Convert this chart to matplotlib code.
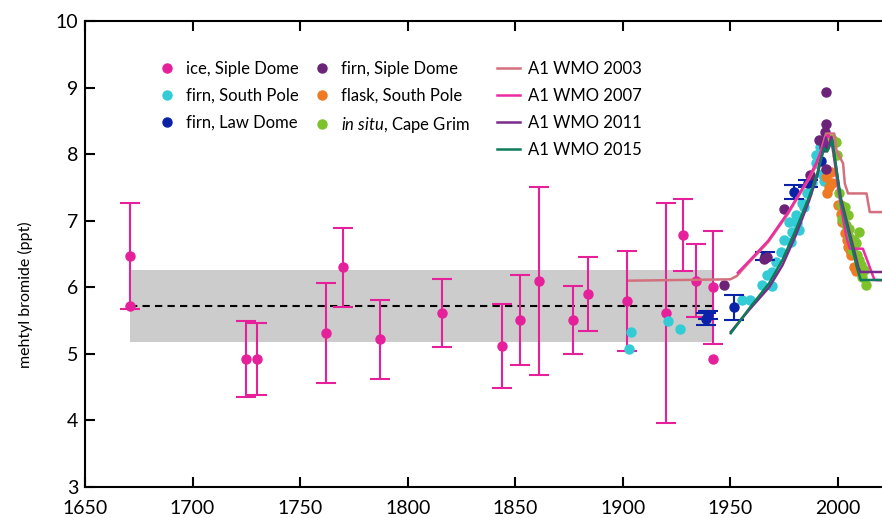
import numpy as np
import matplotlib
matplotlib.use("Agg")
import matplotlib.pyplot as plt
from matplotlib.lines import Line2D

plt.rcParams["font.family"] = ["Lato", "DejaVu Sans"]
plt.rcParams["mathtext.fontset"] = "custom"
plt.rcParams["mathtext.it"] = "Lato:italic"
plt.rcParams["mathtext.rm"] = "Lato"

# ice, Siple Dome (err 0 = no error bar)
ice_year = [1671, 1671, 1725, 1730, 1762, 1770, 1787, 1816, 1844, 1852, 1861,
            1877, 1884, 1902, 1920, 1928, 1934, 1942, 1942]
ice_val = [6.47, 5.72, 4.92, 4.92, 5.32, 6.30, 5.22, 5.61, 5.12, 5.51, 6.10,
           5.51, 5.90, 5.80, 5.61, 6.79, 6.10, 6.00, 4.92]
ice_err = [0.79, 0, 0.57, 0.54, 0.75, 0.59, 0.59, 0.51, 0.63, 0.68, 1.41,
           0.51, 0.55, 0.75, 1.65, 0.54, 0.55, 0.85, 0]

# firn, South Pole
sp_year = [1902.8, 1903.9, 1920.8, 1926.7, 1955.5, 1959, 1964.6, 1969.3, 1967.2,
           1969.5, 1971, 1973.4, 1975, 1978, 1978.8, 1977.3, 1980.4, 1982, 1981.2,
           1983.5, 1985.8, 1988.1, 1990, 1989.7, 1991.5, 1993.5, 1992.5, 1984.3]
sp_val = [5.07, 5.33, 5.50, 5.37, 5.81, 5.81, 6.03, 6.02, 6.18,
          6.23, 6.38, 6.53, 6.71, 6.68, 6.83, 6.98, 7.08, 6.86, 6.96,
          7.26, 7.41, 7.56, 7.86, 7.99, 8.11, 7.59, 7.70, 7.20]

# firn, Law Dome
ld_year = [1938.7, 1939.5, 1951.8, 1966, 1979.5, 1986.1, 1992]
ld_val = [5.53, 5.58, 5.70, 6.47, 7.43, 7.56, 7.90]
ld_err = [0.09, 0.06, 0.19, 0.06, 0.10, 0.05, 0]

# firn, Siple Dome
fsd_year = [1947.2, 1965.5, 1967, 1974.9, 1987.2, 1991.2, 1993.5, 1994.6, 1994.6, 1994, 1994.3]
fsd_val = [6.04, 6.43, 6.45, 7.17, 7.68, 8.21, 8.11, 8.94, 8.45, 8.34, 7.78]

# flask, South Pole
fl_year = [1994.3, 1996.6, 1997.4, 1995.9, 1995.1, 2000.2, 2001.3, 2002, 2003.3,
           2004.1, 2004.8, 2006, 2007.4, 2005.5, 2008.2]
fl_val = [7.66, 7.73, 7.56, 7.51, 7.41, 7.23, 7.10, 6.98, 6.81,
          6.71, 6.61, 6.48, 6.31, 6.56, 6.25]

# in situ, Cape Grim
cg_year = [1997.1, 1998.9, 1999.7, 2000.5, 2001.3, 2001.7, 2003.6, 2005.1, 2009.8,
           2005.1, 2007.5, 2008.3, 2006.7, 2009, 2009.8, 2010.6, 2012.1, 2012.9,
           2003.4, 2004.6, 2011.4]
cg_val = [8.23, 8.18, 7.99, 7.41, 7.23, 7.03, 6.93, 6.88, 6.83,
          6.76, 6.71, 6.66, 6.56, 6.48, 6.41, 6.33, 6.26, 6.03,
          7.20, 7.08, 6.15]

# A1 scenarios
w03_year = [1903, 1950, 1953, 1958.3, 1967.6, 1976.9, 1986.2, 1990, 1994.5, 1998.3,
            1999.3, 2002.4, 2003.2, 2004.7, 2013.3, 2014.8, 2025]
w03_val = [6.10, 6.12, 6.17, 6.36, 6.68, 7.11, 7.61, 7.83, 8.31, 8.31,
           8.06, 7.86, 7.56, 7.41, 7.41, 7.13, 7.13]
w07_year = [1953.5, 1958.3, 1967.6, 1976.9, 1986.2, 1990, 1995, 1996.5, 1998, 2000,
            2002, 2004, 2005.5, 2011.6, 2017, 2025]
w07_val = [6.22, 6.38, 6.70, 7.13, 7.63, 7.87, 8.28, 8.25, 8.00, 7.50,
           7.10, 6.75, 6.58, 6.58, 6.11, 6.10]
w11_year = [1950.2, 1958.7, 1968, 1974.2, 1980.4, 1986.6, 1990.4, 1994.5, 1995.5,
            1997, 2001.3, 2009.5, 2010.5, 2025]
w11_val = [5.33, 5.66, 6.00, 6.33, 6.78, 7.30, 7.68, 8.25, 8.10,
           8.26, 7.35, 6.30, 6.23, 6.23]
w15_year = [1950.2, 1958.7, 1968, 1974.2, 1980.4, 1986.6, 1990.4, 1993.5, 1995,
            1997.4, 2001.3, 2009, 2010.6, 2025]
w15_val = [5.31, 5.68, 6.06, 6.41, 6.86, 7.36, 7.71, 8.09, 8.04,
           8.21, 7.31, 6.28, 6.11, 6.11]

# pre-industrial mean and range
band_years = [1671, 1942]
band_low, band_high, band_mean = 5.18, 6.26, 5.72

c_ice = "#E6209A"
c_sp = "#33CCD6"
c_ld = "#0A22A8"
c_fsd = "#6B2378"
c_fl = "#EE7A22"
c_cg = "#7DC22A"
c_w03 = "#D4707E"
c_w07 = "#EC2CA2"
c_w11 = "#7A2A8C"
c_w15 = "#0E7B5A"

fig = plt.figure(figsize=(8.82, 5.18), dpi=100)
ax = fig.add_axes([0.0964, 0.0598, 0.9146, 0.8996])

ax.fill_between(band_years, band_low, band_high, color="#CCCCCC", lw=0, zorder=1)
ax.plot(band_years, [band_mean, band_mean], color="black", ls=(0, (3.5, 2.5)), lw=1.5, zorder=2)

ms = 6.5
ice_y = np.array(ice_year, float)
ice_v = np.array(ice_val)
ice_e = np.array(ice_err)
has = ice_e > 0
ax.errorbar(ice_y[has], ice_v[has], yerr=ice_e[has], fmt="none", ecolor=c_ice,
            elinewidth=1.5, capsize=7, capthick=1.5, zorder=3)
ax.plot(ice_y, ice_v, "o", color=c_ice, ms=ms, zorder=4)

ax.plot(sp_year, sp_val, "o", color=c_sp, ms=ms, zorder=4)

ld_y = np.array(ld_year)
ld_v = np.array(ld_val)
ld_e = np.array(ld_err)
has = ld_e > 0
ax.errorbar(ld_y[has], ld_v[has], yerr=ld_e[has], fmt="none", ecolor=c_ld,
            elinewidth=1.5, capsize=7, capthick=1.5, zorder=5)
ax.plot(ld_y, ld_v, "o", color=c_ld, ms=ms, zorder=5)

ax.plot(fsd_year, fsd_val, "o", color=c_fsd, ms=ms, zorder=5)
ax.plot(fl_year, fl_val, "o", color=c_fl, ms=ms, zorder=4)
ax.plot(cg_year, cg_val, "o", color=c_cg, ms=ms, zorder=4)

ax.plot(w03_year, w03_val, color=c_w03, lw=1.8, zorder=6)
ax.plot(w07_year, w07_val, color=c_w07, lw=1.8, zorder=6)
ax.plot(w11_year, w11_val, color=c_w11, lw=1.8, zorder=6)
ax.plot(w15_year, w15_val, color=c_w15, lw=1.8, zorder=6)

ax.set_xlim(1650, 2025)
ax.set_ylim(3, 10)
ax.set_xticks(np.arange(1650, 2001, 50))
ax.set_yticks(np.arange(3, 11, 1))
ax.tick_params(direction="in", length=7, width=1.5, labelsize=14,
               top=True, right=True)
ax.tick_params(axis="x", pad=9)
ax.tick_params(axis="y", pad=5)
for s in ax.spines.values():
    s.set_linewidth(1.5)

ax.set_ylabel("mehtyl bromide (ppt)", fontsize=11.5)
ax.yaxis.set_label_coords(-0.064, 0.413)

def dot(c):
    return Line2D([], [], ls="none", marker="o", ms=ms, color=c)

def seg(c):
    return Line2D([], [], color=c, lw=1.8)

leg_kw = dict(frameon=False, fontsize=12, handlelength=1.4, handletextpad=0.45,
              labelspacing=0.66, borderpad=0, borderaxespad=0, loc="upper left")
top = 1 - 61 / 518
l1 = ax.legend([dot(c_ice), dot(c_sp), dot(c_ld)],
               ["ice, Siple Dome", "firn, South Pole", "firn, Law Dome"],
               bbox_to_anchor=(155 / 882, top), bbox_transform=fig.transFigure, **leg_kw)
ax.add_artist(l1)
l2 = ax.legend([dot(c_fsd), dot(c_fl), dot(c_cg)],
               ["firn, Siple Dome", "flask, South Pole", r"$\it{in\ situ}$, Cape Grim"],
               bbox_to_anchor=(310 / 882, top), bbox_transform=fig.transFigure, **leg_kw)
ax.add_artist(l2)
ax.legend([seg(c_w03), seg(c_w07), seg(c_w11), seg(c_w15)],
          ["A1 WMO 2003", "A1 WMO 2007", "A1 WMO 2011", "A1 WMO 2015"],
          bbox_to_anchor=(497 / 882, top), bbox_transform=fig.transFigure, **leg_kw)

fig.savefig("out.png", dpi=100)
